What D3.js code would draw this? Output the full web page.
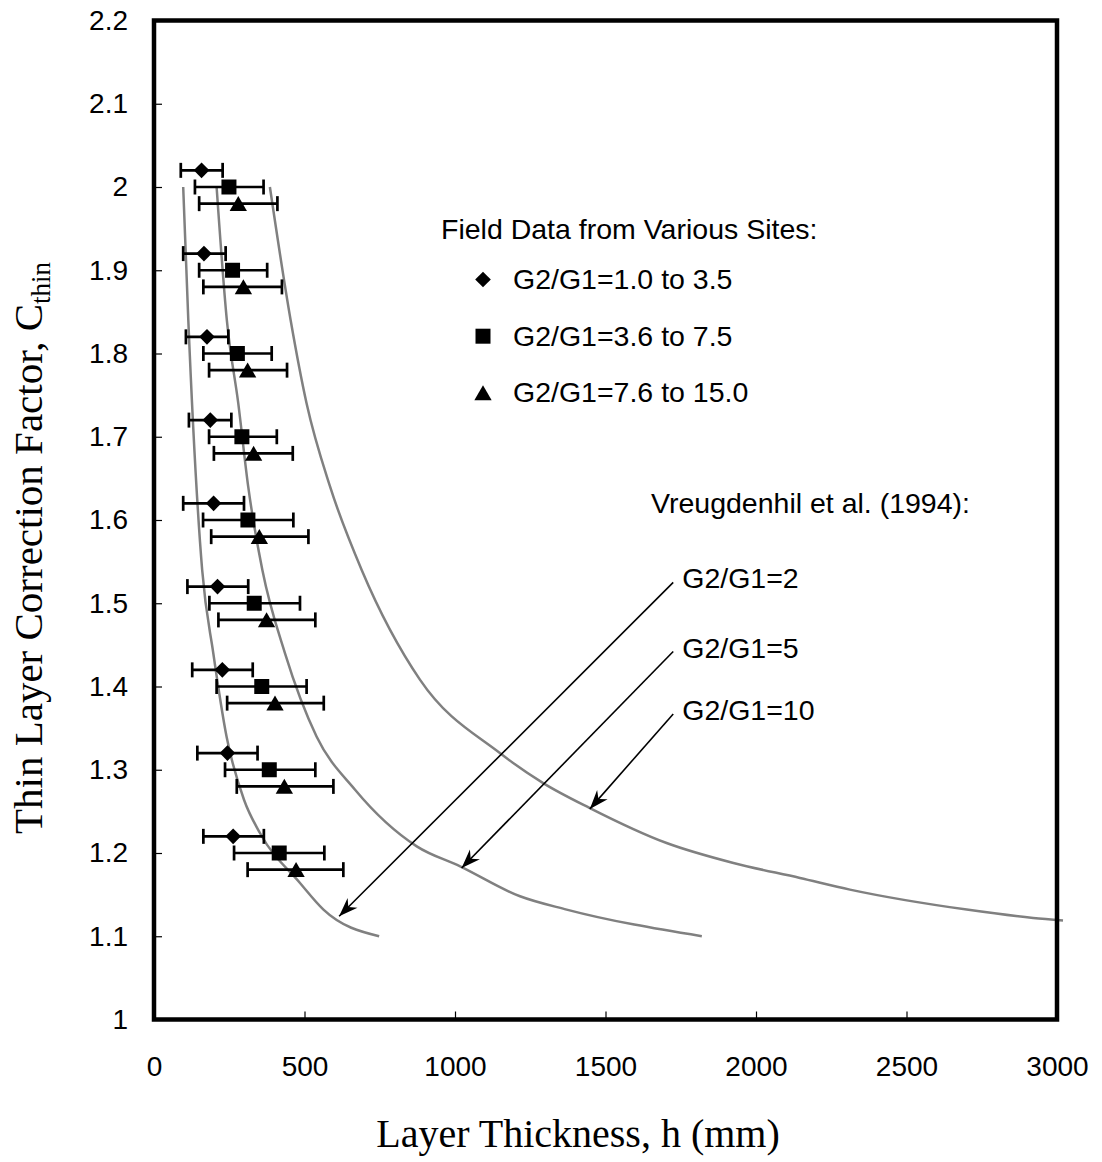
<!DOCTYPE html>
<html>
<head>
<meta charset="utf-8">
<script src="https://cdn.jsdelivr.net/npm/d3@7"></script>
<style>
  body { margin: 0; background: #fff; }
  svg text { fill: #000; }
</style>
</head>
<body>
<svg id="chart"></svg>
<script>
// field data: C_thin level, mean h (mm), error bar ends (mm)
const lowC  = [2.02, 1.92, 1.82, 1.72, 1.62, 1.52, 1.42, 1.32, 1.22];
const lowH  = [158, 166, 176, 187, 198, 211, 227, 244, 263];
const lowLo = [89, 97, 106, 116, 97, 111, 127, 144, 164];
const lowHi = [228, 238, 247, 257, 299, 313, 328, 344, 365];

const midC  = [2.0, 1.9, 1.8, 1.7, 1.6, 1.5, 1.4, 1.3, 1.2];
const midH  = [249, 261, 277, 292, 312, 333, 358, 383, 416];
const midLo = [136, 150, 164, 183, 163, 184, 208, 236, 266];
const midHi = [364, 376, 391, 408, 463, 485, 507, 536, 566];

const highC  = [1.98, 1.88, 1.78, 1.68, 1.58, 1.48, 1.38, 1.28, 1.18];
const highH  = [280, 297, 311, 331, 350, 374, 402, 433, 472];
const highLo = [150, 164, 183, 199, 190, 214, 243, 275, 311];
const highHi = [410, 425, 442, 461, 513, 536, 564, 596, 629];

// Vreugdenhil et al. (1994) curves
const curve2H  = [97, 114, 160, 197, 241, 299, 352, 485, 563, 748];
const curve2C  = [2.0, 1.84, 1.54, 1.44, 1.34, 1.264, 1.224, 1.164, 1.132, 1.1];
const curve5H  = [208, 242, 280, 313, 360, 435, 540, 668, 873, 1017, 1216, 1371, 1820];
const curve5C  = [2.0, 1.84, 1.74, 1.64, 1.54, 1.44, 1.34, 1.276, 1.208, 1.184, 1.148, 1.132, 1.1];
const curve10H = [385, 454, 507, 585, 690, 884, 1149, 1293, 1448, 1703, 1925, 2146, 2312, 2700, 2921, 3020];
const curve10C = [2.0, 1.84, 1.74, 1.64, 1.54, 1.408, 1.32, 1.284, 1.254, 1.212, 1.188, 1.17, 1.156, 1.132, 1.122, 1.119];

// annotation arrows: label text, start (h, C), tip (h, C)
const arrowLabels = ["G2/G1=2", "G2/G1=5", "G2/G1=10"];
const arrowFrom = [[1725, 1.525], [1725, 1.442], [1725, 1.367]];
const arrowTo   = [[615, 1.124], [1022, 1.182], [1448, 1.253]];

const xTicks = [0, 500, 1000, 1500, 2000, 2500, 3000];
const yTicks = [1, 1.1, 1.2, 1.3, 1.4, 1.5, 1.6, 1.7, 1.8, 1.9, 2.0, 2.1, 2.2];

const legendLabels = ["G2/G1=1.0 to 3.5", "G2/G1=3.6 to 7.5", "G2/G1=7.6 to 15.0"];

const width = 1102, height = 1162;
const plot = { left: 154, top: 20.5, right: 1057, bottom: 1019.5 };
const sans = "'Liberation Sans', Arial, sans-serif";
const serif = "'Liberation Serif', 'Times New Roman', serif";

const svg = d3.select("#chart")
    .attr("width", width)
    .attr("height", height)
    .style("font-family", sans);

const xScale = d3.scaleLinear().domain([0, 3000]).range([plot.left, plot.right]);
const yScale = d3.scaleLinear().domain([1, 2.2]).range([plot.bottom, plot.top]);

// arrowhead
svg.append("defs").append("marker")
    .attr("id", "head")
    .attr("markerUnits", "userSpaceOnUse")
    .attr("viewBox", "-20 -8 22 16")
    .attr("refX", 0).attr("refY", 0)
    .attr("markerWidth", 22).attr("markerHeight", 16)
    .attr("orient", "auto")
    .append("path")
    .attr("d", "M0,0L-19,-7L-13,0L-19,7Z")
    .attr("fill", "#000");

// axes, ticks pointing into the plot
const xAxis = svg.append("g")
    .attr("transform", `translate(0, ${plot.bottom})`)
    .call(d3.axisBottom(xScale).tickValues(xTicks).tickSize(-8).tickPadding(37).tickFormat(d3.format("d")));
const yAxis = svg.append("g")
    .attr("transform", `translate(${plot.left}, 0)`)
    .call(d3.axisLeft(yScale).tickValues(yTicks).tickSize(-8).tickPadding(26).tickFormat(d3.format("~g")));

[xAxis, yAxis].forEach(a => {
    a.select(".domain").remove();
    a.selectAll(".tick line").attr("stroke", "#000").attr("stroke-width", 1.2);
    a.selectAll(".tick text").style("font-family", sans).style("font-size", "28px").attr("fill", "#000");
});

// theory curves
const line = d3.line()
    .x(d => xScale(d[0]))
    .y(d => yScale(d[1]))
    .curve(d3.curveMonotoneX);

const curves = [
    d3.zip(curve2H, curve2C),
    d3.zip(curve5H, curve5C),
    d3.zip(curve10H, curve10C)
];

svg.append("g").selectAll("path")
    .data(curves)
    .join("path")
    .attr("d", line)
    .attr("fill", "none")
    .attr("stroke", "#808080")
    .attr("stroke-width", 2.5);

// field data series
const series = [
    { shape: "diamond", C: lowC, h: lowH, lo: lowLo, hi: lowHi },
    { shape: "square", C: midC, h: midH, lo: midLo, hi: midHi },
    { shape: "triangle", C: highC, h: highH, lo: highLo, hi: highHi }
];

function marker(sel, shape) {
    if (shape === "diamond") {
        sel.attr("d", d3.symbol(d3.symbolSquare, 122)());
    } else if (shape === "square") {
        sel.attr("d", d3.symbol(d3.symbolSquare, 225)());
    } else {
        sel.attr("d", d3.symbol(d3.symbolTriangle, 130)());
    }
}

function markerTransform(shape, px, py) {
    if (shape === "diamond") return `translate(${px}, ${py}) rotate(45)`;
    if (shape === "triangle") return `translate(${px}, ${py + 2.4})`;
    return `translate(${px}, ${py})`;
}

series.forEach(s => {
    const rows = s.C.map((c, i) => ({ c: c, h: s.h[i], lo: s.lo[i], hi: s.hi[i] }));
    const g = svg.append("g");

    const bars = g.selectAll(".bar")
        .data(rows)
        .join("g")
        .attr("class", "bar")
        .attr("stroke", "#000")
        .attr("stroke-width", 2.7);

    bars.append("line")
        .attr("x1", d => xScale(d.lo)).attr("x2", d => xScale(d.hi))
        .attr("y1", d => yScale(d.c)).attr("y2", d => yScale(d.c));
    bars.append("line")
        .attr("x1", d => xScale(d.lo)).attr("x2", d => xScale(d.lo))
        .attr("y1", d => yScale(d.c) - 7.5).attr("y2", d => yScale(d.c) + 7.5);
    bars.append("line")
        .attr("x1", d => xScale(d.hi)).attr("x2", d => xScale(d.hi))
        .attr("y1", d => yScale(d.c) - 7.5).attr("y2", d => yScale(d.c) + 7.5);

    g.selectAll(".pt")
        .data(rows)
        .join("path")
        .attr("class", "pt")
        .call(marker, s.shape)
        .attr("transform", d => markerTransform(s.shape, xScale(d.h), yScale(d.c)))
        .attr("fill", "#000");
});

// plot frame
svg.append("rect")
    .attr("x", plot.left)
    .attr("y", plot.top)
    .attr("width", plot.right - plot.left)
    .attr("height", plot.bottom - plot.top)
    .attr("fill", "none")
    .attr("stroke", "#000")
    .attr("stroke-width", 4.5);

// legend
const legend = svg.append("g").style("font-size", "28.5px");
legend.append("text")
    .attr("x", 441).attr("y", 239)
    .text("Field Data from Various Sites:");

const legendRows = legend.selectAll(".legend")
    .data(series)
    .join("g")
    .attr("class", "legend")
    .attr("transform", (d, i) => `translate(0, ${i * 56.7})`);

legendRows.append("path")
    .each(function (d) {
        d3.select(this).call(marker, d.shape)
            .attr("transform", markerTransform(d.shape, 483, 279.5))
            .attr("fill", "#000");
    });

legendRows.append("text")
    .attr("x", 513)
    .attr("y", 289)
    .text((d, i) => legendLabels[i]);

// Vreugdenhil annotation
const notes = svg.append("g").style("font-size", "28.5px");
notes.append("text")
    .attr("x", 651).attr("y", 513)
    .text("Vreugdenhil et al. (1994):");

const arrows = notes.selectAll(".arrow")
    .data(arrowLabels.map((t, i) => ({ label: t, from: arrowFrom[i], to: arrowTo[i] })))
    .join("g")
    .attr("class", "arrow");

arrows.append("line")
    .attr("x1", d => xScale(d.from[0])).attr("y1", d => yScale(d.from[1]))
    .attr("x2", d => xScale(d.to[0])).attr("y2", d => yScale(d.to[1]))
    .attr("stroke", "#000")
    .attr("stroke-width", 1.6)
    .attr("marker-end", "url(#head)");

arrows.append("text")
    .attr("x", d => xScale(d.from[0]) + 9)
    .attr("y", d => yScale(d.from[1]) + 6)
    .text(d => d.label);

// axis titles
svg.append("text")
    .attr("x", 578).attr("y", 1147)
    .attr("text-anchor", "middle")
    .style("font-family", serif)
    .style("font-size", "40px")
    .text("Layer Thickness, h (mm)");

const yTitle = svg.append("text")
    .attr("transform", "translate(42, 548) rotate(-90)")
    .attr("text-anchor", "middle")
    .style("font-family", serif)
    .style("font-size", "41px");
yTitle.append("tspan").text("Thin Layer Correction Factor, C");
yTitle.append("tspan")
    .attr("dy", 8)
    .style("font-size", "27px")
    .text("thin");
</script>
</body>
</html>
